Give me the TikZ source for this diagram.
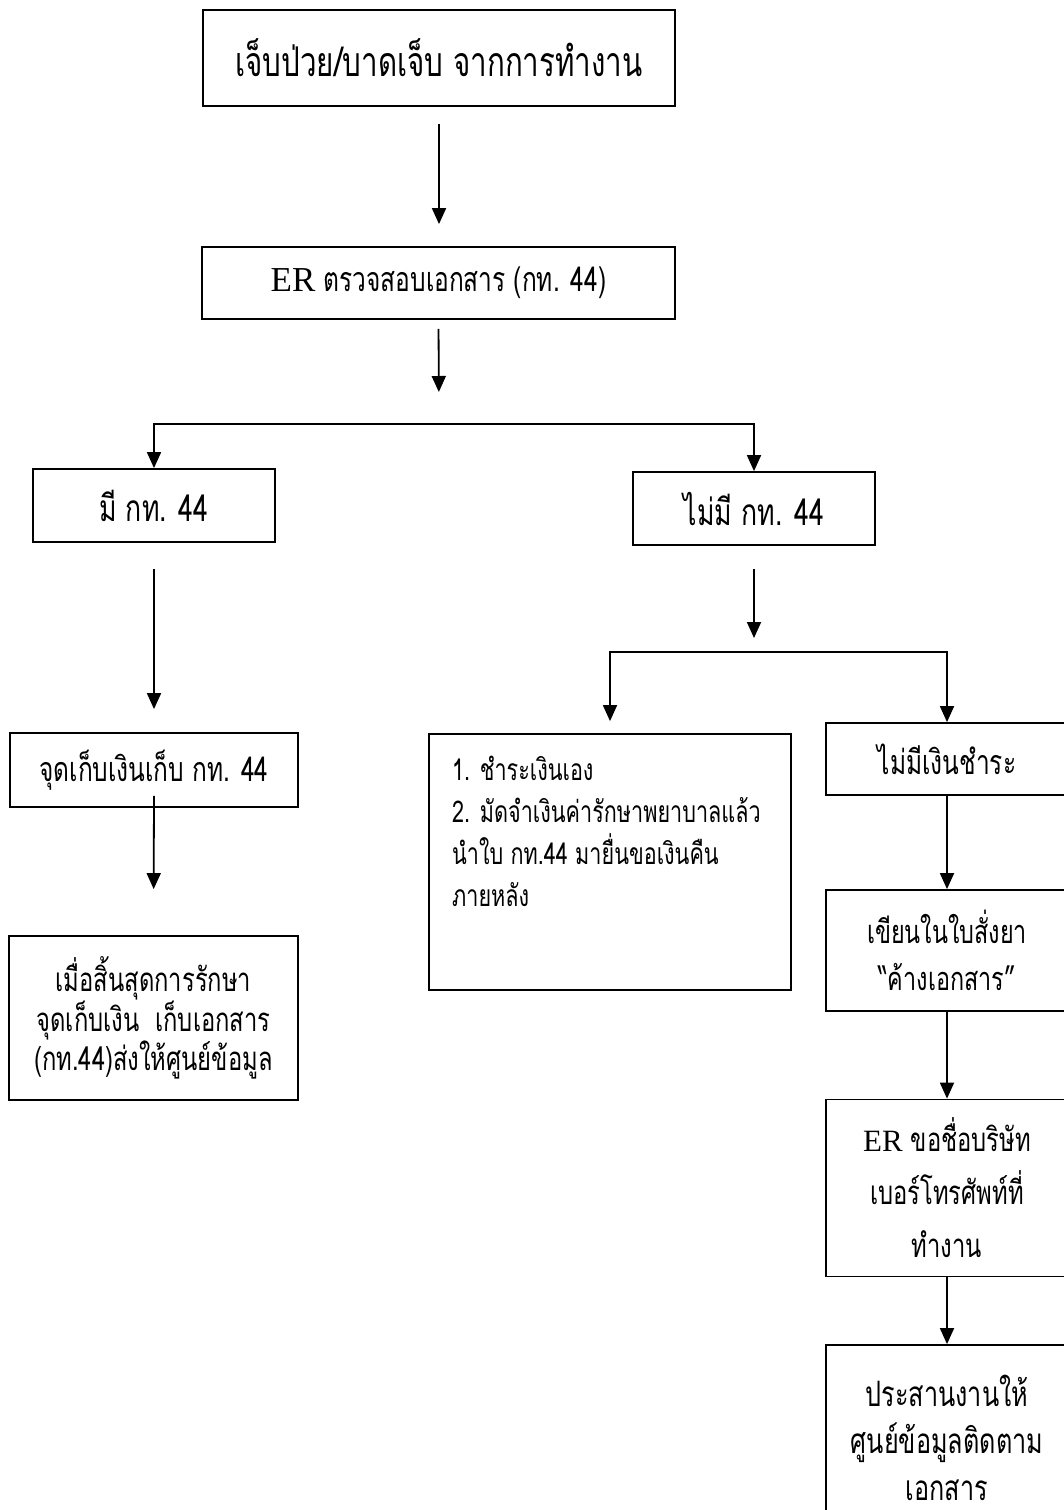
\documentclass[tikz,border=0pt]{standalone}
\usepackage{fontspec}
\setmainfont{Liberation Serif}
\newfontfamily\thai[Script=Thai,FakeStretch=0.72]{Loma}
\newfontfamily\latf{Liberation Serif}
\usetikzlibrary{arrows.meta}
\newcommand{\tf}[2]{\thai\fontsize{#1}{#2}\selectfont}
\begin{document}
\begin{tikzpicture}[x=1pt,y=-1pt,
  box/.style={draw,line width=1.8pt,inner sep=0pt,align=center},
  arr/.style={line width=1.8pt,-{Triangle[width=14pt,length=16pt]}}]
\useasboundingbox (0,0) rectangle (1064,1510);
\clip (0,0) rectangle (1064,1510);
\fill[white] (0,0) rectangle (1064,1510);
% boxes
\node[box,minimum width=472pt,minimum height=96pt,font=\tf{41}{48}] (b1) at (439,58)
  {เจ็บป่วย/บาดเจ็บ จากการทำงาน};
\node[box,minimum width=473pt,minimum height=72pt,font=\tf{34}{40}] (b2) at (438.5,283)
  {{\latf\fontsize{35}{40}\selectfont ER} ตรวจสอบเอกสาร (กท. 44)};
\node[box,minimum width=242pt,minimum height=73pt,font=\tf{37}{44}] (b3) at (154,505.5)
  {มี กท. 44};
\node[box,minimum width=242pt,minimum height=73pt,font=\tf{37}{44}] (b4) at (754,508.5)
  {ไม่มี กท. 44};
\node[box,minimum width=288pt,minimum height=74pt,font=\tf{34}{40}] (b5) at (154,770)
  {จุดเก็บเงินเก็บ กท. 44};
\node[box,minimum width=289pt,minimum height=164pt,font=\tf{33}{38}] (b6) at (153.5,1018)
  {เมื่อสิ้นสุดการรักษา\\จุดเก็บเงิน\ \ เก็บเอกสาร\\(กท.44)ส่งให้ศูนย์ข้อมูล};
\node[box,minimum width=362pt,minimum height=256pt] (b7) at (610,862) {};
\node[align=left,anchor=north west,inner sep=0pt,font=\tf{30}{42}] (t7) at (452,756)
  {1. ชำระเงินเอง\\2. มัดจำเงินค่ารักษาพยาบาลแล้ว\\นำใบ กท.44 มายื่นขอเงินคืน\\ภายหลัง};
\node[box,minimum width=242pt,minimum height=72pt,font=\tf{34}{40}] (b8) at (947,759)
  {ไม่มีเงินชำระ};
\node[box,minimum width=242pt,minimum height=121pt,font=\tf{32.5}{47}] (b9) at (947,950.5)
  {เขียนในใบสั่งยา\\“ค้างเอกสาร”};
\node[box,minimum width=242pt,minimum height=177pt,font=\tf{33}{53}] (b10) at (947,1188)
  {{\latf\fontsize{31}{30}\selectfont ER} ขอชื่อบริษัท\\เบอร์โทรศัพท์ที่\\ทำงาน};
\node[box,minimum width=242pt,minimum height=185pt,font=\tf{35}{47}] (b11) at (947,1437.5)
  {ประสานงานให้\\ศูนย์ข้อมูลติดตาม\\เอกสาร};
% junctions
\coordinate (j1) at (439,424);
\coordinate (j2) at (754,652);
% connectors
\draw[arr,shorten <=17pt,shorten >=22pt] (b1.south) -- (b1.south |- b2.north);
\draw[arr,shorten <=9pt,shorten >=32pt] (b2.south) -- (j1);
\draw[arr] (j1) -| (b3.north);
\draw[arr] (j1) -| (b4.north);
\draw[arr,shorten <=26pt,shorten >=23pt] (b3.south) -- (b5.north);
\draw[arr,shorten <=23pt,shorten >=14pt] (b4.south) -- (j2);
\draw[arr,shorten >=12pt] (j2) -| (b7.north);
\draw[arr] (j2) -| (b8.north);
\draw[arr,shorten >=46pt] ([yshift=12pt]b5.south) -- (b6.north);
\draw[arr] (b8.south) -- (b9.north);
\draw[arr] (b9.south) -- (b10.north);
\draw[arr] (b10.south) -- (b11.north);
\end{tikzpicture}
\end{document}
